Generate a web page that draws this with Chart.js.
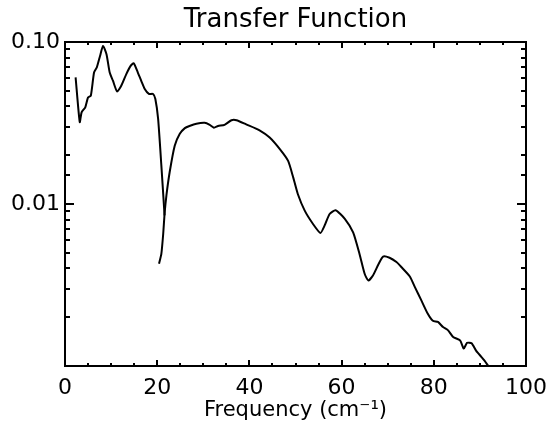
<!DOCTYPE html>
<html>
<head>
<meta charset="utf-8">
<script src="https://cdn.jsdelivr.net/npm/chart.js@4.4.1/dist/chart.umd.min.js"></script>
<style>
  html, body { margin: 0; padding: 0; background: #fff; }
  #wrap { width: 552px; height: 426px; }
</style>
</head>
<body>
<div id="wrap"><canvas id="tfChart" width="552" height="426"></canvas></div>
<script>
// low band: 2 - 21.6 cm^-1 (ends in the notch)
const freqLow = [2.3, 3.2, 3.6, 4.4, 5.0, 5.6, 6.3, 6.9, 7.6, 8.25, 9.0, 9.7, 10.4, 11.3, 12.2, 13.3, 14.2, 14.9, 15.8, 16.6, 17.3, 18.2, 19.1, 19.6, 20.2, 20.9, 21.6];
const transLow = [0.0605, 0.032, 0.0368, 0.0395, 0.0455, 0.0466, 0.0648, 0.0697, 0.082, 0.0946, 0.084, 0.0648, 0.0577, 0.0495, 0.0537, 0.0634, 0.071, 0.074, 0.0648, 0.057, 0.0513, 0.0478, 0.0478, 0.0445, 0.0335, 0.0173, 0.0085];

// high band: 20.4 - 92 cm^-1
const freqHigh = [20.4, 20.9, 21.3, 21.6, 22.0, 22.7, 23.8, 24.9, 26.0, 27.0, 28.5, 30.3, 31.4, 32.3, 33.2, 34.6, 36.1, 37.2, 39.3, 42.2, 44.4, 46.6, 48.4, 49.5, 50.5, 52.0, 53.8, 55.4, 56.3, 57.4, 58.7, 60.7, 62.5, 63.9, 65.0, 65.8, 66.8, 68.0, 69.0, 70.4, 71.9, 73.0, 74.8, 75.9, 77.3, 78.7, 79.8, 80.9, 82.0, 83.1, 84.2, 85.7, 86.5, 87.2, 88.2, 89.2, 90.3, 91.0, 91.8];
const transHigh = [0.00428, 0.00492, 0.00653, 0.0087, 0.0113, 0.0157, 0.0229, 0.0271, 0.0294, 0.0303, 0.0313, 0.0317, 0.0308, 0.0296, 0.0303, 0.0308, 0.0329, 0.0329, 0.031, 0.0285, 0.0257, 0.0218, 0.01845, 0.0146, 0.01153, 0.0091, 0.00753, 0.00663, 0.00735, 0.00868, 0.00915, 0.0081, 0.00668, 0.0049, 0.00371, 0.00337, 0.00362, 0.00425, 0.00474, 0.00466, 0.00438, 0.00407, 0.00357, 0.00307, 0.00254, 0.0021, 0.0019, 0.00187, 0.00174, 0.00166, 0.00151, 0.00144, 0.00128, 0.00139, 0.00138, 0.00124, 0.00114, 0.00108, 0.00100];

const xMajorTicks = [0, 20, 40, 60, 80, 100];
const xMinorTicks = [5, 10, 15, 25, 30, 35, 45, 50, 55, 65, 70, 75, 85, 90, 95];
const yTickLabels = { '0.1': '0.10', '0.01': '0.01' };

function toPoints(xs, ys) {
    return xs.map(function(x, i) { return { x: x, y: ys[i] }; });
}

const FONT = "'DejaVu Sans', sans-serif";

// IDL style box with inward ticks on all four sides
const boxTicks = {
    id: 'boxTicks',
    afterDraw: function(chart) {
        const ctx = chart.ctx;
        const a = chart.chartArea;
        const xs = chart.scales.x, ys = chart.scales.y;
        ctx.save();
        ctx.strokeStyle = '#000';
        ctx.lineWidth = 2;
        ctx.strokeRect(a.left, a.top, a.right - a.left, a.bottom - a.top);
        ctx.beginPath();
        function xTick(v, len) {
            const px = Math.round(xs.getPixelForValue(v));
            ctx.moveTo(px, a.bottom); ctx.lineTo(px, a.bottom - len);
            ctx.moveTo(px, a.top); ctx.lineTo(px, a.top + len);
        }
        xMajorTicks.forEach(function(v) { xTick(v, 6); });
        xMinorTicks.forEach(function(v) { xTick(v, 3); });
        ys.ticks.forEach(function(t) {
            const v = t.value;
            const mant = v / Math.pow(10, Math.floor(Math.log10(v) + 1e-9));
            const len = Math.abs(mant - 1) < 1e-6 ? 9 : 5;
            const py = Math.round(ys.getPixelForValue(v));
            ctx.moveTo(a.left, py); ctx.lineTo(a.left + len, py);
            ctx.moveTo(a.right, py); ctx.lineTo(a.right - len, py);
        });
        ctx.stroke();
        ctx.restore();
    }
};

var ctx = document.getElementById('tfChart').getContext('2d');
var tfChart = new Chart(ctx, {
    type: 'line',
    data: {
        datasets: [{
            data: toPoints(freqLow, transLow),
            borderColor: '#000',
            borderWidth: 2,
            pointRadius: 0,
            tension: 0.2,
            fill: false
        }, {
            data: toPoints(freqHigh, transHigh),
            borderColor: '#000',
            borderWidth: 2,
            pointRadius: 0,
            tension: 0.2,
            fill: false
        }]
    },
    options: {
        responsive: false,
        animation: false,
        layout: { padding: { left: 0, right: 26, top: 0, bottom: 0 } },
        plugins: {
            legend: { display: false },
            tooltip: { enabled: false },
            title: {
                display: true,
                text: 'Transfer Function',
                color: '#000',
                fullSize: false,
                font: { family: FONT, size: 26, weight: 'normal' },
                padding: { top: 4.4, bottom: 6.4 }
            }
        },
        scales: {
            x: {
                type: 'linear',
                min: 0,
                max: 100,
                grid: { display: false, drawTicks: false },
                border: { display: false },
                ticks: {
                    stepSize: 20,
                    color: '#000',
                    padding: 9,
                    maxRotation: 0,
                    font: { family: FONT, size: 22 }
                },
                title: {
                    display: true,
                    text: 'Frequency (cm\u207B\u00B9)',
                    color: '#000',
                    font: { family: FONT, size: 21 },
                    padding: { top: 0, bottom: 2.4 }
                },
                afterFit: function(scale) {
                    scale.height = 60;
                    scale.paddingLeft = 0;
                    scale.paddingRight = 0;
                }
            },
            y: {
                type: 'logarithmic',
                min: 0.001,
                max: 0.1,
                grid: { display: false, drawTicks: false },
                border: { display: false },
                ticks: {
                    color: '#000',
                    padding: 5,
                    autoSkip: false,
                    font: { family: FONT, size: 22 },
                    callback: function(value) {
                        const key = String(Number(value.toPrecision(3)));
                        return yTickLabels[key] || '';
                    }
                },
                afterFit: function(scale) {
                    scale.width = 65;
                    scale.paddingTop = 0;
                    scale.paddingBottom = 0;
                }
            }
        }
    },
    plugins: [boxTicks]
});
</script>
</body>
</html>
